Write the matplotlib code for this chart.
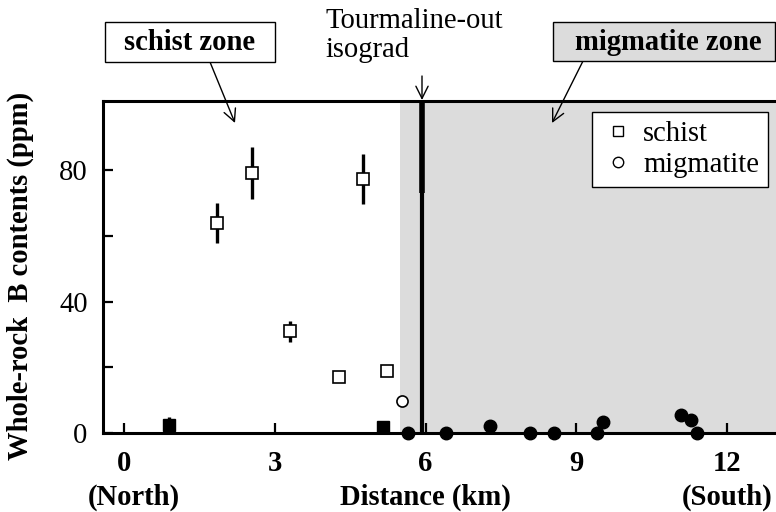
import matplotlib
matplotlib.use("Agg")
import matplotlib.pyplot as plt
from matplotlib.patches import Rectangle
from matplotlib.lines import Line2D

# data
schist_x = [1.84, 2.54, 4.76, 3.30, 4.28, 5.24]
schist_y = [63.9, 79.1, 77.3, 30.9, 17.1, 18.8]
schist_err = [6.2, 8.0, 7.7, 3.2, 1.5, 1.5]
schist_low_x = [0.89, 5.16]
schist_low_y = [2.4, 1.8]
schist_low_err = [2.4, 1.8]
migm_x = [5.53]
migm_y = [9.8]
migm_fill_x = [5.64, 6.41, 7.28, 8.07, 8.55, 9.40, 9.53, 11.08, 11.28, 11.40]
migm_fill_y = [0, 0, 2.2, 0, 0, 0, 3.2, 5.5, 4.0, 0]
isograd_x = 5.93
migm_zone_start = 5.49

W, H = 776, 512
FS = 20.6
plt.rcParams['font.family'] = ['Liberation Serif', 'DejaVu Serif']

fig = plt.figure(figsize=(W / 100, H / 100), dpi=100)


def fx(px):
    return px / W


def fy(py):
    return 1 - py / H


ax = fig.add_axes([fx(103), fy(433), 1 - fx(103), fy(101) - fy(433)])
ax.set_xlim(-0.42, 12.97)
ax.set_ylim(0, 101)

# shaded migmatite zone and isograd
ax.axvspan(migm_zone_start, 14, color='#dcdcdc', lw=0, zorder=0)
ax.axvline(isograd_x, color='black', lw=3.0, zorder=2)
ax.plot([isograd_x, isograd_x], [73, 101], color='black', lw=4.0,
        solid_capstyle='butt', zorder=2)

# schist samples
ax.errorbar(schist_x, schist_y, yerr=schist_err, fmt='s', ms=8,
            mfc='white', mec='black', mew=1.2, ecolor='black',
            elinewidth=2.4, capsize=0, zorder=4)
ax.errorbar(schist_low_x, schist_low_y, yerr=schist_low_err, fmt='s', ms=8.5,
            mfc='black', mec='black', ecolor='black', elinewidth=2.4,
            capsize=0, zorder=4, clip_on=False)
# migmatite samples
ax.plot(migm_x, migm_y, 'o', ms=8, mfc='white', mec='black', mew=1.2,
        zorder=4)
ax.plot(migm_fill_x, migm_fill_y, 'o', ms=9, mfc='black', mec='black',
        zorder=5, clip_on=False)

# axes style
for side in ['left', 'top', 'bottom']:
    ax.spines[side].set_linewidth(2.2)
ax.spines['right'].set_visible(False)
ax.set_xticks([0, 3, 6, 9, 12])
ax.set_yticks([0, 40, 80])
ax.set_yticks([20, 60], minor=True)
ax.tick_params(axis='both', which='both', direction='in', length=7, width=1.6,
               top=False, right=False)
ax.tick_params(axis='x', labelsize=FS, pad=12)
ax.tick_params(axis='y', labelsize=FS, pad=11)
for lab in ax.get_xticklabels():
    lab.set_fontweight('bold')

handles = [Line2D([], [], ls='none', marker='s', ms=7.5, mfc='white',
                  mec='black', mew=1.0),
           Line2D([], [], ls='none', marker='o', ms=7.5, mfc='white',
                  mec='black', mew=1.0)]
leg = ax.legend(handles, ['schist', 'migmatite'], loc='upper right',
                bbox_to_anchor=(0.988, 0.967), borderaxespad=0, fontsize=FS,
                frameon=True, fancybox=False, framealpha=1, edgecolor='black',
                handletextpad=0.3, handlelength=1.2, borderpad=0.3,
                labelspacing=0.2)
leg.get_frame().set_linewidth(1.0)

# labels
fig.text(fx(20), fy(276), 'Whole-rock  B contents (ppm)', rotation=90,
         ha='center', va='center', fontsize=FS, fontweight='bold')
fig.text(fx(134), fy(497), '(North)', ha='center', va='center',
         fontsize=FS, fontweight='bold')
fig.text(fx(425), fy(497), 'Distance (km)', ha='center', va='center',
         fontsize=FS, fontweight='bold')
fig.text(fx(727), fy(497), '(South)', ha='center', va='center',
         fontsize=FS, fontweight='bold')

# zone boxes
fig.patches.append(Rectangle((fx(105), fy(62)), fx(275) - fx(105),
                             fy(22) - fy(62), transform=fig.transFigure,
                             fc='white', ec='black', lw=1.0))
fig.text(fx(190), fy(42), 'schist zone', ha='center', va='center',
         fontsize=FS, fontweight='bold')
fig.patches.append(Rectangle((fx(553), fy(61)), fx(775) - fx(553),
                             fy(22) - fy(61), transform=fig.transFigure,
                             fc='#dcdcdc', ec='black', lw=1.0))
fig.text(fx(668), fy(42), 'migmatite zone', ha='center', va='center',
         fontsize=FS, fontweight='bold')

fig.text(fx(325), fy(8), 'Tourmaline-out\nisograd', ha='left', va='top',
         fontsize=FS, linespacing=1.15)

arrow = dict(arrowstyle='->', color='black', lw=1.0, mutation_scale=22,
             shrinkA=0, shrinkB=0)
ax.annotate('', xy=(fx(235), fy(123)), xycoords='figure fraction',
            xytext=(fx(210), fy(62)), textcoords='figure fraction',
            arrowprops=arrow)
ax.annotate('', xy=(fx(552), fy(123)), xycoords='figure fraction',
            xytext=(fx(583), fy(61)), textcoords='figure fraction',
            arrowprops=arrow)
ax.annotate('', xy=(fx(422), fy(100)), xycoords='figure fraction',
            xytext=(fx(422), fy(76)), textcoords='figure fraction',
            arrowprops=arrow)

fig.savefig('out.png', dpi=100)
